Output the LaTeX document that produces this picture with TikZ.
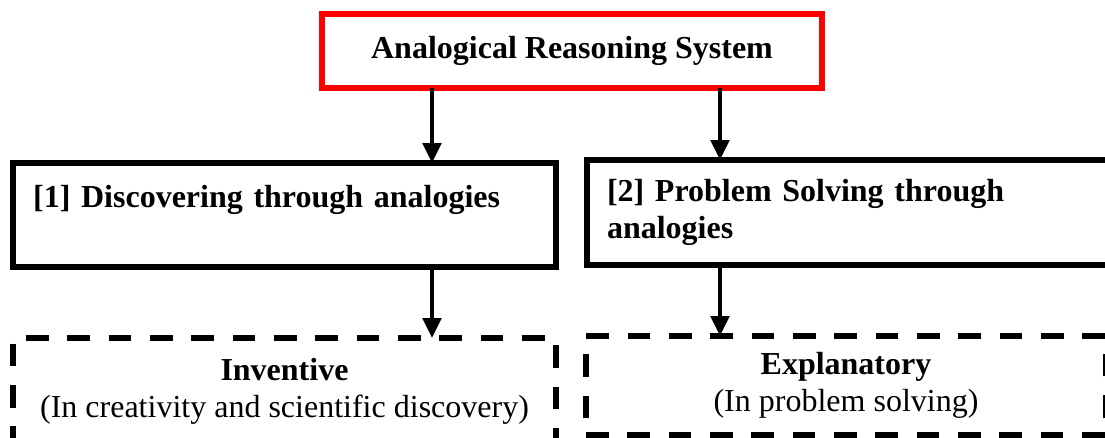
\documentclass[tikz,border=0pt]{standalone}
\usepackage{fontspec}
\setmainfont{Liberation Serif}
\usetikzlibrary{arrows.meta}

\begin{document}
\begin{tikzpicture}[x=0.75pt,y=-0.75pt,
    every node/.style={outer sep=0pt, font=\fontsize{24}{27.6}\selectfont},
    redbox/.style={draw=red, line width=4.5pt, font=\fontsize{24}{27.6}\selectfont\bfseries},
    solidbox/.style={draw, line width=4.5pt, align=left, inner xsep=15pt, font=\fontsize{24}{27.6}\selectfont\bfseries},
    dashbox/.style={draw, line width=4.5pt, dash pattern=on 17pt off 14pt, align=center},
    arr/.style={line width=3.6pt, -{Triangle[width=13.5pt,length=15pt]}}]
    \useasboundingbox (0,0) rectangle (1105,437);
    \clip (0,0) rectangle (1105,437);

    % 上
    \node[redbox, minimum width=375pt, minimum height=55.5pt] (title) at (572,51) {Analogical Reasoning System};

    % 中段
    \node[solidbox, text width=377pt, minimum height=78pt] (disc) at (284.5,215) {[1] Discovering through analogies\\ \mbox{}};
    \node[solidbox, text width=373.5pt, minimum height=78.75pt] (prob) at (856,212.5) {[2] Problem Solving through\\ analogies};

    % 下段
    \node[dashbox, minimum width=407.25pt, minimum height=80.25pt] (invent) at (284.5,391.5) {\textbf{Inventive}\\ (In creativity and scientific discovery)};
    \node[dashbox, minimum width=390pt, minimum height=74.25pt] (explan) at (846,385.5) {\textbf{Explanatory}\\ (In problem solving)};

    % 矢印
    \coordinate (c1) at (432,0);
    \coordinate (c2) at (720,0);
    \draw[arr] (title.south -| c1) -- (disc.north -| c1);
    \draw[arr] (title.south -| c2) -- (prob.north -| c2);
    \draw[arr] (disc.south -| c1) -- (invent.north -| c1);
    \draw[arr] (prob.south -| c2) -- (explan.north -| c2);
\end{tikzpicture}
\end{document}
